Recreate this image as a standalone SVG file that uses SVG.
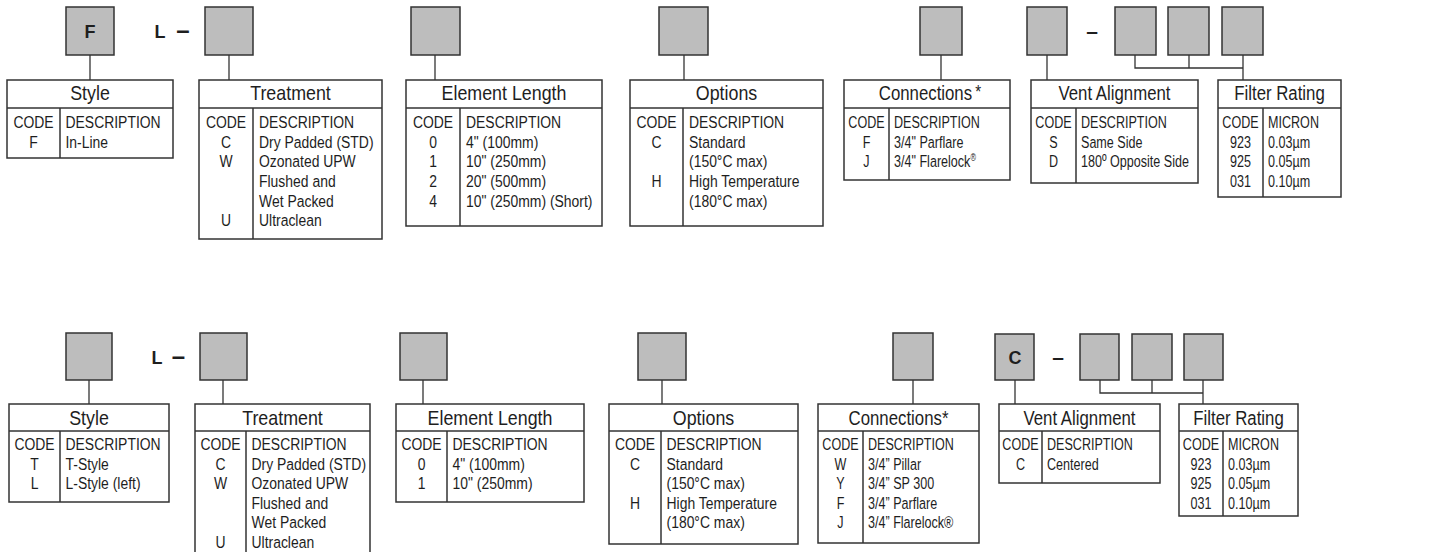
<svg xmlns="http://www.w3.org/2000/svg" width="1435" height="552" viewBox="0 0 1435 552">
<style>
.box{fill:#bdbdbd;stroke:#333;stroke-width:1.5}
.tbl{fill:#fff;stroke:#333;stroke-width:1.5}
.ln{stroke:#333;stroke-width:1.5;fill:none}
.cn{stroke:#333;stroke-width:1.3;fill:none}
text{font-family:"Liberation Sans",Arial,sans-serif;fill:#1e1e1e}
.t{font-size:21px;text-anchor:middle}
.c{font-size:17px;text-anchor:middle}
.d{font-size:17px}
.bd{font-size:18px;font-weight:bold;text-anchor:middle}
.dash{font-weight:bold;text-anchor:middle}
</style>
<rect width="1435" height="552" fill="#fff"/>

<g id="connectors">
<line class="cn" x1="90" y1="55" x2="90" y2="80"/>
<line class="cn" x1="229" y1="55" x2="229" y2="80"/>
<line class="cn" x1="435" y1="55" x2="435" y2="80"/>
<line class="cn" x1="684" y1="55" x2="684" y2="80"/>
<line class="cn" x1="941" y1="55" x2="941" y2="80"/>
<line class="cn" x1="1047" y1="55" x2="1047" y2="80"/>
<polyline class="cn" points="1135,55 1135,68 1243,68"/>
<line class="cn" x1="1189" y1="55" x2="1189" y2="68"/>
<line class="cn" x1="1243" y1="55" x2="1243" y2="80"/>

<line class="cn" x1="89" y1="380" x2="89" y2="404"/>
<line class="cn" x1="223" y1="380" x2="223" y2="404"/>
<line class="cn" x1="423" y1="380" x2="423" y2="404"/>
<line class="cn" x1="662" y1="380" x2="662" y2="404"/>
<line class="cn" x1="913" y1="380" x2="913" y2="404"/>
<line class="cn" x1="1015" y1="380" x2="1015" y2="404"/>
<polyline class="cn" points="1100,380 1100,393 1203,393"/>
<line class="cn" x1="1152" y1="380" x2="1152" y2="393"/>
<line class="cn" x1="1203" y1="380" x2="1203" y2="404"/>
</g>

<!-- ===== TOP ROW ===== -->
<g id="top-style">
<rect class="box" x="66" y="7" width="48" height="48"/>
<text class="bd" x="90" y="38">F</text>
<rect class="tbl" x="7" y="80" width="166" height="78"/>
<line class="ln" x1="7" y1="108" x2="173" y2="108"/>
<line class="ln" x1="60" y1="108" x2="60" y2="158"/>
<text class="t" transform="translate(90 100) scale(.85 1)">Style</text>
<text class="c" transform="translate(33.5 0) scale(.82 1)"><tspan x="0" y="128">CODE</tspan><tspan x="0" y="147.7">F</tspan></text>
<text class="d" transform="translate(65.5 0) scale(.82 1)"><tspan x="0" y="128">DESCRIPTION</tspan><tspan x="0" y="147.7">In-Line</tspan></text>
</g>

<g id="top-treatment">
<text class="bd" x="160" y="38">L</text>
<text class="dash" x="183" y="38" font-size="24">–</text>
<rect class="box" x="205" y="7" width="48" height="48"/>
<rect class="tbl" x="199" y="80" width="183" height="159"/>
<line class="ln" x1="199" y1="108" x2="382" y2="108"/>
<line class="ln" x1="253" y1="108" x2="253" y2="239"/>
<text class="t" transform="translate(290.5 100) scale(.85 1)">Treatment</text>
<text class="c" transform="translate(226 0) scale(.82 1)"><tspan x="0" y="128">CODE</tspan><tspan x="0" y="147.7">C</tspan><tspan x="0" y="167.4">W</tspan><tspan x="0" y="226.5">U</tspan></text>
<text class="d" transform="translate(259 0) scale(.82 1)"><tspan x="0" y="128">DESCRIPTION</tspan><tspan x="0" y="147.7">Dry Padded (STD)</tspan><tspan x="0" y="167.4">Ozonated UPW</tspan><tspan x="0" y="187.1">Flushed and</tspan><tspan x="0" y="206.8">Wet Packed</tspan><tspan x="0" y="226.5">Ultraclean</tspan></text>
</g>

<g id="top-element-length">
<rect class="box" x="411" y="7" width="49" height="48"/>
<rect class="tbl" x="406" y="80" width="196" height="146"/>
<line class="ln" x1="406" y1="108" x2="602" y2="108"/>
<line class="ln" x1="460" y1="108" x2="460" y2="226"/>
<text class="t" transform="translate(504 100) scale(.85 1)">Element Length</text>
<text class="c" transform="translate(433 0) scale(.82 1)"><tspan x="0" y="128">CODE</tspan><tspan x="0" y="147.7">0</tspan><tspan x="0" y="167.4">1</tspan><tspan x="0" y="187.1">2</tspan><tspan x="0" y="206.8">4</tspan></text>
<text class="d" transform="translate(466 0) scale(.82 1)"><tspan x="0" y="128">DESCRIPTION</tspan><tspan x="0" y="147.7">4" (100mm)</tspan><tspan x="0" y="167.4">10" (250mm)</tspan><tspan x="0" y="187.1">20" (500mm)</tspan><tspan x="0" y="206.8">10" (250mm) (Short)</tspan></text>
</g>

<g id="top-options">
<rect class="box" x="659" y="7" width="49" height="48"/>
<rect class="tbl" x="630" y="80" width="193" height="146"/>
<line class="ln" x1="630" y1="108" x2="823" y2="108"/>
<line class="ln" x1="683" y1="108" x2="683" y2="226"/>
<text class="t" transform="translate(726.5 100) scale(.85 1)">Options</text>
<text class="c" transform="translate(656.5 0) scale(.82 1)"><tspan x="0" y="128">CODE</tspan><tspan x="0" y="147.7">C</tspan><tspan x="0" y="187.1">H</tspan></text>
<text class="d" transform="translate(689 0) scale(.82 1)"><tspan x="0" y="128">DESCRIPTION</tspan><tspan x="0" y="147.7">Standard</tspan><tspan x="0" y="167.4">(150°C max)</tspan><tspan x="0" y="187.1">High Temperature</tspan><tspan x="0" y="206.8">(180°C max)</tspan></text>
</g>

<g id="top-connections">
<rect class="box" x="920" y="7" width="42" height="48"/>
<rect class="tbl" x="844" y="80" width="166" height="100"/>
<line class="ln" x1="844" y1="108" x2="1010" y2="108"/>
<line class="ln" x1="889" y1="108" x2="889" y2="180"/>
<text class="t" transform="translate(930 100) scale(.8 1)">Connections<tspan dx="4" font-size="19" dy="-2">*</tspan></text>
<text class="c" transform="translate(866.5 0) scale(.74 1)"><tspan x="0" y="128">CODE</tspan><tspan x="0" y="147.7">F</tspan><tspan x="0" y="167.4">J</tspan></text>
<text class="d" transform="translate(894 0) scale(.74 1)"><tspan x="0" y="128">DESCRIPTION</tspan><tspan x="0" y="147.7">3/4" Parflare</tspan><tspan x="0" y="167.4">3/4" Flarelock<tspan font-size="10" dy="-6">®</tspan></tspan></text>
</g>

<g id="top-vent-alignment">
<rect class="box" x="1027" y="7" width="40" height="48"/>
<rect class="tbl" x="1031" y="80" width="167" height="103"/>
<line class="ln" x1="1031" y1="108" x2="1198" y2="108"/>
<line class="ln" x1="1076" y1="108" x2="1076" y2="183"/>
<text class="t" transform="translate(1114.5 100) scale(.8 1)">Vent Alignment</text>
<text class="c" transform="translate(1053.5 0) scale(.74 1)"><tspan x="0" y="128">CODE</tspan><tspan x="0" y="147.7">S</tspan><tspan x="0" y="167.4">D</tspan></text>
<text class="d" transform="translate(1081 0) scale(.74 1)"><tspan x="0" y="128">DESCRIPTION</tspan><tspan x="0" y="147.7">Same Side</tspan><tspan x="0" y="167.4">180º Opposite Side</tspan></text>
</g>

<g id="top-filter-rating">
<text class="dash" x="1092" y="38" font-size="21">–</text>
<rect class="box" x="1115" y="7" width="41" height="48"/>
<rect class="box" x="1168" y="7" width="41" height="48"/>
<rect class="box" x="1222" y="7" width="41" height="48"/>
<rect class="tbl" x="1218" y="80" width="123" height="117"/>
<line class="ln" x1="1218" y1="108" x2="1341" y2="108"/>
<line class="ln" x1="1263" y1="108" x2="1263" y2="197"/>
<text class="t" transform="translate(1279.5 100) scale(.8 1)">Filter Rating</text>
<text class="c" transform="translate(1240.5 0) scale(.74 1)"><tspan x="0" y="128">CODE</tspan><tspan x="0" y="147.7">923</tspan><tspan x="0" y="167.4">925</tspan><tspan x="0" y="187.1">031</tspan></text>
<text class="d" transform="translate(1268 0) scale(.74 1)"><tspan x="0" y="128">MICRON</tspan><tspan x="0" y="147.7">0.03µm</tspan><tspan x="0" y="167.4">0.05µm</tspan><tspan x="0" y="187.1">0.10µm</tspan></text>
</g>

<!-- ===== BOTTOM ROW ===== -->
<g id="bottom-style">
<rect class="box" x="66" y="333" width="46" height="47"/>
<rect class="tbl" x="9" y="404" width="160" height="98"/>
<line class="ln" x1="9" y1="431" x2="169" y2="431"/>
<line class="ln" x1="60" y1="431" x2="60" y2="502"/>
<text class="t" transform="translate(89 425) scale(.85 1)">Style</text>
<text class="c" transform="translate(34.5 0) scale(.82 1)"><tspan x="0" y="450">CODE</tspan><tspan x="0" y="469.6">T</tspan><tspan x="0" y="489.2">L</tspan></text>
<text class="d" transform="translate(65.5 0) scale(.82 1)"><tspan x="0" y="450">DESCRIPTION</tspan><tspan x="0" y="469.6">T-Style</tspan><tspan x="0" y="489.2">L-Style (left)</tspan></text>
</g>

<g id="bottom-treatment">
<text class="bd" x="157" y="364">L</text>
<text class="dash" x="178.5" y="364" font-size="24">–</text>
<rect class="box" x="200" y="333" width="47" height="47"/>
<path class="tbl" d="M195,560 V404 H370 V560"/>
<line class="ln" x1="195" y1="431" x2="370" y2="431"/>
<line class="ln" x1="246" y1="431" x2="246" y2="560"/>
<text class="t" transform="translate(282.5 425) scale(.85 1)">Treatment</text>
<text class="c" transform="translate(220.5 0) scale(.82 1)"><tspan x="0" y="450">CODE</tspan><tspan x="0" y="469.6">C</tspan><tspan x="0" y="489.2">W</tspan><tspan x="0" y="548">U</tspan></text>
<text class="d" transform="translate(251.5 0) scale(.82 1)"><tspan x="0" y="450">DESCRIPTION</tspan><tspan x="0" y="469.6">Dry Padded (STD)</tspan><tspan x="0" y="489.2">Ozonated UPW</tspan><tspan x="0" y="508.8">Flushed and</tspan><tspan x="0" y="528.4">Wet Packed</tspan><tspan x="0" y="548">Ultraclean</tspan></text>
</g>

<g id="bottom-element-length">
<rect class="box" x="400" y="333" width="47" height="47"/>
<rect class="tbl" x="396" y="404" width="188" height="98"/>
<line class="ln" x1="396" y1="431" x2="584" y2="431"/>
<line class="ln" x1="447" y1="431" x2="447" y2="502"/>
<text class="t" transform="translate(490 425) scale(.85 1)">Element Length</text>
<text class="c" transform="translate(421.5 0) scale(.82 1)"><tspan x="0" y="450">CODE</tspan><tspan x="0" y="469.6">0</tspan><tspan x="0" y="489.2">1</tspan></text>
<text class="d" transform="translate(452.5 0) scale(.82 1)"><tspan x="0" y="450">DESCRIPTION</tspan><tspan x="0" y="469.6">4" (100mm)</tspan><tspan x="0" y="489.2">10" (250mm)</tspan></text>
</g>

<g id="bottom-options">
<rect class="box" x="638" y="333" width="48" height="47"/>
<rect class="tbl" x="609" y="404" width="189" height="140"/>
<line class="ln" x1="609" y1="431" x2="798" y2="431"/>
<line class="ln" x1="661" y1="431" x2="661" y2="544"/>
<text class="t" transform="translate(703.5 425) scale(.85 1)">Options</text>
<text class="c" transform="translate(635 0) scale(.82 1)"><tspan x="0" y="450">CODE</tspan><tspan x="0" y="469.6">C</tspan><tspan x="0" y="508.8">H</tspan></text>
<text class="d" transform="translate(666.5 0) scale(.82 1)"><tspan x="0" y="450">DESCRIPTION</tspan><tspan x="0" y="469.6">Standard</tspan><tspan x="0" y="489.2">(150°C max)</tspan><tspan x="0" y="508.8">High Temperature</tspan><tspan x="0" y="528.4">(180°C max)</tspan></text>
</g>

<g id="bottom-connections">
<rect class="box" x="893" y="333" width="40" height="47"/>
<rect class="tbl" x="818" y="404" width="161" height="139"/>
<line class="ln" x1="818" y1="431" x2="979" y2="431"/>
<line class="ln" x1="863" y1="431" x2="863" y2="543"/>
<text class="t" transform="translate(898.5 425) scale(.8 1)">Connections*</text>
<text class="c" transform="translate(840.5 0) scale(.74 1)"><tspan x="0" y="450">CODE</tspan><tspan x="0" y="469.6">W</tspan><tspan x="0" y="489.2">Y</tspan><tspan x="0" y="508.8">F</tspan><tspan x="0" y="528.4">J</tspan></text>
<text class="d" transform="translate(868 0) scale(.74 1)"><tspan x="0" y="450">DESCRIPTION</tspan><tspan x="0" y="469.6">3/4” Pillar</tspan><tspan x="0" y="489.2">3/4” SP 300</tspan><tspan x="0" y="508.8">3/4” Parflare</tspan><tspan x="0" y="528.4">3/4” Flarelock®</tspan></text>
</g>

<g id="bottom-vent-alignment">
<rect class="box" x="995" y="334" width="39" height="46"/>
<text class="bd" x="1015" y="364">C</text>
<rect class="tbl" x="999" y="404" width="161" height="79"/>
<line class="ln" x1="999" y1="431" x2="1160" y2="431"/>
<line class="ln" x1="1042" y1="431" x2="1042" y2="483"/>
<text class="t" transform="translate(1079.5 425) scale(.8 1)">Vent Alignment</text>
<text class="c" transform="translate(1020.5 0) scale(.74 1)"><tspan x="0" y="450">CODE</tspan><tspan x="0" y="469.6">C</tspan></text>
<text class="d" transform="translate(1047 0) scale(.74 1)"><tspan x="0" y="450">DESCRIPTION</tspan><tspan x="0" y="469.6">Centered</tspan></text>
</g>

<g id="bottom-filter-rating">
<text class="dash" x="1058" y="364" font-size="21">–</text>
<rect class="box" x="1080" y="334" width="39" height="46"/>
<rect class="box" x="1132" y="334" width="40" height="46"/>
<rect class="box" x="1184" y="334" width="39" height="46"/>
<rect class="tbl" x="1179" y="404" width="119" height="112"/>
<line class="ln" x1="1179" y1="431" x2="1298" y2="431"/>
<line class="ln" x1="1223" y1="431" x2="1223" y2="516"/>
<text class="t" transform="translate(1238.5 425) scale(.8 1)">Filter Rating</text>
<text class="c" transform="translate(1201 0) scale(.74 1)"><tspan x="0" y="450">CODE</tspan><tspan x="0" y="469.6">923</tspan><tspan x="0" y="489.2">925</tspan><tspan x="0" y="508.8">031</tspan></text>
<text class="d" transform="translate(1228 0) scale(.74 1)"><tspan x="0" y="450">MICRON</tspan><tspan x="0" y="469.6">0.03µm</tspan><tspan x="0" y="489.2">0.05µm</tspan><tspan x="0" y="508.8">0.10µm</tspan></text>
</g>
</svg>
